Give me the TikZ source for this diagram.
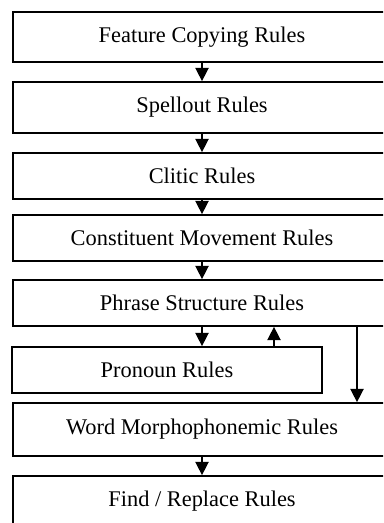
\documentclass[tikz,border=0pt]{standalone}
\usepackage{fontspec}
\setmainfont{Liberation Serif}
\usetikzlibrary{positioning, calc, arrows.meta}
\tikzset{
    rulebox/.style = {draw, line width=1.3pt, inner sep=0pt, minimum width=283.5pt, minimum height=34.5pt, font=\fontsize{16.8}{20}\selectfont},
    arr/.style = {line width=1.1pt, -{Triangle[length=10pt,width=10pt]}}
}
\begin{document}
\begin{tikzpicture}[x=0.75pt,y=-0.75pt]
                \useasboundingbox (0,0) rectangle (383,523);
                \clip (0,0) rectangle (383,523);
                \node[rulebox, minimum height=37.5pt] (feature) at (202,37) {Feature Copying Rules};
                \node[rulebox, minimum height=38.25pt] (spellout) at (202,107.5) {Spellout Rules};
                \node[rulebox] (clitic) at (202,176) {Clitic Rules};
                \node[rulebox] (constituent) at (202,238) {Constituent Movement Rules};
                \node[rulebox] (phrase) at (202,303) {Phrase Structure Rules};
                \node[rulebox, minimum width=232.5pt] (pronoun) at (167,370) {Pronoun Rules};
                \node[rulebox, minimum height=39.75pt] (word) at (202,429.5) {Word Morphophonemic Rules};
                \node[rulebox, minimum height=37.5pt] (find) at (202,501) {Find / Replace Rules};
                \draw[arr] (feature.south) -- (spellout.north);
                \draw[arr] (spellout.south) -- (clitic.north);
                \draw[arr] (clitic.south) -- (constituent.north);
                \draw[arr] (constituent.south) -- (phrase.north);
                \draw[arr] (phrase.south) -- (pronoun.north -| phrase.south);
                \draw[arr] (pronoun.north -| 274,0) -- (phrase.south -| 274,0);
                \draw[arr] (phrase.south -| 357,0) -- (word.north -| 357,0);
                \draw[arr] (word.south) -- (find.north);
            \end{tikzpicture}
\end{document}
